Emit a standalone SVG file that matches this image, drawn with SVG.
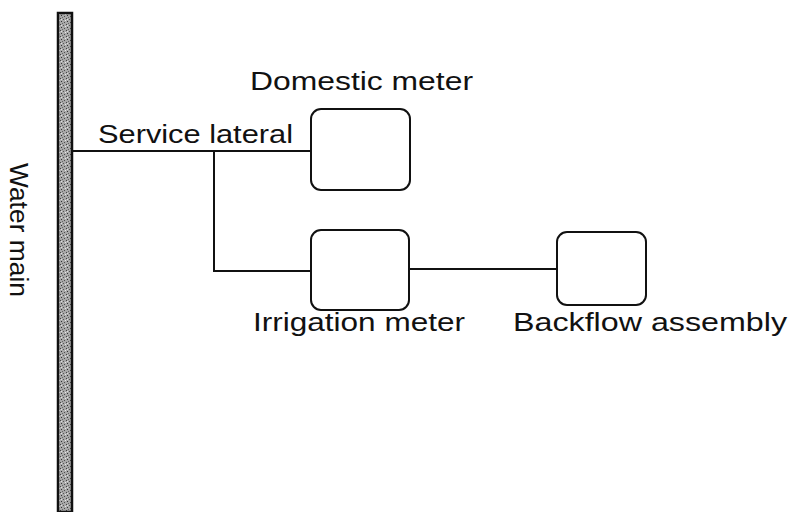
<svg xmlns="http://www.w3.org/2000/svg" width="791" height="512" viewBox="0 0 791 512">
<defs>
<pattern id="stip" width="6" height="6" patternUnits="userSpaceOnUse">
<rect width="6" height="6" fill="#a8a8a8"/>
<rect x="0" y="0" width="1" height="1" fill="#444"/>
<rect x="3" y="1" width="1" height="1" fill="#555"/>
<rect x="1" y="3" width="1" height="1" fill="#333"/>
<rect x="4" y="4" width="1" height="1" fill="#4a4a4a"/>
<rect x="2" y="5" width="1" height="1" fill="#666"/>
<rect x="5" y="2" width="1" height="1" fill="#e8e8e8"/>
<rect x="1" y="1" width="1" height="1" fill="#e0e0e0"/>
</pattern>
<style>
.lbl{font-family:"Liberation Sans",Arial,sans-serif;font-size:25px;fill:#111}
.box{fill:#fff;stroke:#111;stroke-width:2}
.pipe{fill:none;stroke:#111;stroke-width:2}
</style>
</defs>
<rect width="791" height="512" fill="#fff"/>
<g id="water-main">
<rect x="58" y="13" width="14" height="499" fill="url(#stip)" stroke="#111" stroke-width="2.5"/>
<text class="lbl" transform="translate(10,163) rotate(90)" textLength="134" lengthAdjust="spacingAndGlyphs">Water main</text>
</g>
<g id="connectors">
<polyline class="pipe" points="72,151 311,151"/>
<polyline class="pipe" points="214,151 214,271 311,271"/>
<polyline class="pipe" points="409,269 557,269"/>
</g>
<g id="service-lateral">
<text class="lbl" x="98" y="143" textLength="195" lengthAdjust="spacingAndGlyphs">Service lateral</text>
</g>
<g id="domestic-meter">
<rect class="box" x="311" y="109" width="99" height="81" rx="10"/>
<text class="lbl" x="250" y="90" textLength="223" lengthAdjust="spacingAndGlyphs">Domestic meter</text>
</g>
<g id="irrigation-meter">
<rect class="box" x="311" y="230" width="98" height="80" rx="10"/>
<text class="lbl" x="253" y="331" textLength="212" lengthAdjust="spacingAndGlyphs">Irrigation meter</text>
</g>
<g id="backflow-assembly">
<rect class="box" x="557" y="232" width="89" height="73" rx="10"/>
<text class="lbl" x="513" y="331" textLength="274" lengthAdjust="spacingAndGlyphs">Backflow assembly</text>
</g>
</svg>
